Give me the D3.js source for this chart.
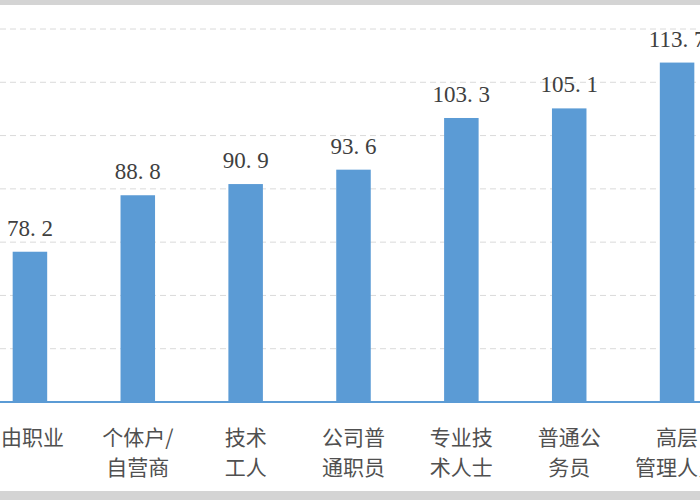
<!DOCTYPE html>
<html><head><meta charset="utf-8">
<script src="https://cdn.jsdelivr.net/npm/d3@7"></script>
<style>body{margin:0;background:#fff;overflow:hidden}</style>
</head><body>
<script>
// chart data
const categories = ["自由职业", "个体户/自营商", "技术工人", "公司普通职员", "专业技术人士", "普通公务员", "高层管理人员"];
const labelLines = [["自由职业"], ["个体户/", "自营商"], ["技术", "工人"], ["公司普", "通职员"], ["专业技", "术人士"], ["普通公", "务员"], ["高层", "管理人员"]];
const values = [78.2, 88.8, 90.9, 93.6, 103.3, 105.1, 113.7];
const yTicks = [60, 70, 80, 90, 100, 110, 120];

const W = 700, H = 500, base = 402;
const svg = d3.select("body").append("svg").attr("width", W).attr("height", H);

// x centers run from ~30 to ~677 (chart is cropped on both sides)
const x = d3.scaleBand().domain(categories).range([-24, 731]).paddingInner(0.68).paddingOuter(0.34);
const y = d3.scaleLinear().domain([50, 120]).range([base, 29]);

// frame lines
svg.append("rect").attr("x", 0).attr("y", 0).attr("width", W).attr("height", 5).attr("fill", "#d4d4d4");
svg.append("rect").attr("x", 0).attr("y", 491).attr("width", W).attr("height", 9).attr("fill", "#d4d4d4");

svg.selectAll(".grid").data(yTicks).enter().append("line")
  .attr("x1", 0).attr("x2", W).attr("y1", d => y(d)).attr("y2", d => y(d))
  .attr("stroke", "#dadada").attr("stroke-dasharray", "6,4");

svg.selectAll(".bar").data(values).enter().append("rect")
  .attr("x", (d, i) => x(categories[i])).attr("width", x.bandwidth())
  .attr("y", d => y(d)).attr("height", d => base - y(d)).attr("fill", "#5b9bd5");

svg.append("line").attr("x1", 0).attr("x2", W).attr("y1", base).attr("y2", base)
  .attr("stroke", "#5b9bd5").attr("stroke-width", 2);

svg.selectAll(".val").data(values).enter().append("text")
  .attr("x", (d, i) => x(categories[i]) + x.bandwidth() / 2).attr("y", d => y(d) - 16)
  .attr("text-anchor", "middle").attr("font-family", "Liberation Serif, serif").attr("font-size", 23)
  .attr("fill", "#404040").text(d => d.toFixed(1).replace(".", ". "));

labelLines.forEach((lines, i) => {
  const cx = x(categories[i]) + x.bandwidth() / 2 + (i === 0 ? -8 : 0);
  lines.forEach((t, j) => {
    svg.append("text").attr("x", cx).attr("y", 445 + j * 30).attr("text-anchor", "middle")
      .attr("font-family", "Noto Sans CJK SC").attr("font-size", 21).attr("fill", "#505050").text(t);
  });
});
</script>
</body></html>
